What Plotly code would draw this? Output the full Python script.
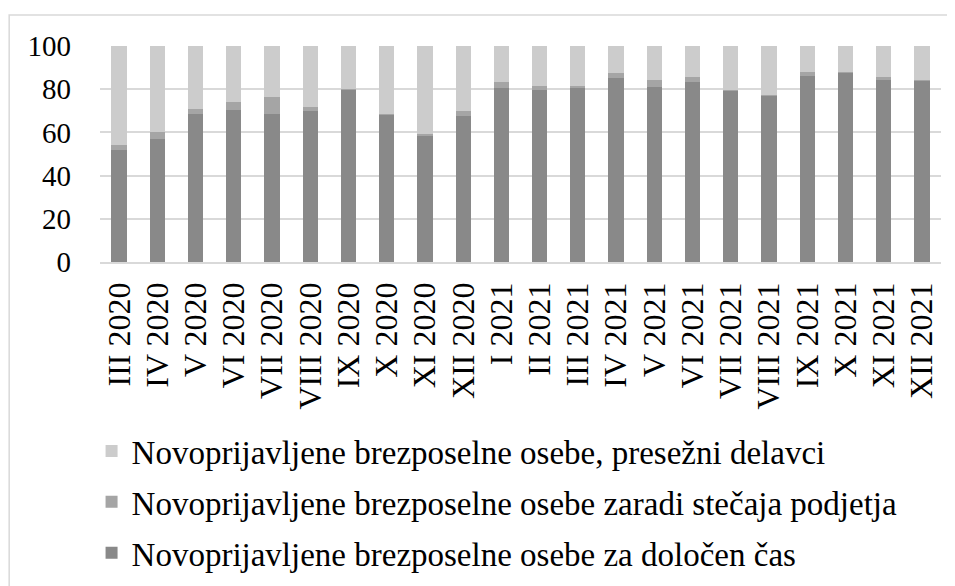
import plotly.graph_objects as go

categories = ["III 2020", "IV 2020", "V 2020", "VI 2020", "VII 2020", "VIII 2020",
              "IX 2020", "X 2020", "XI 2020", "XII 2020", "I 2021", "II 2021",
              "III 2021", "IV 2021", "V 2021", "VI 2021", "VII 2021", "VIII 2021",
              "IX 2021", "X 2021", "XI 2021", "XII 2021"]

dolocen_cas = [52.0, 56.8, 68.5, 70.4, 68.5, 69.8, 80.0, 68.1, 58.7, 67.5, 80.4,
               79.6, 80.7, 85.0, 80.9, 83.3, 79.6, 76.9, 86.3, 87.5, 84.4, 84.0]
stecaj = [2.3, 3.4, 2.3, 3.5, 7.7, 1.8, 0.3, 0.4, 0.4, 2.3, 2.8,
          1.9, 1.0, 2.4, 3.5, 2.3, 0.2, 0.6, 1.8, 0.5, 1.4, 0.4]
presezni = [45.7, 39.8, 29.2, 26.1, 23.8, 28.4, 19.7, 31.5, 40.9, 30.2, 16.8,
            18.5, 18.3, 12.6, 15.6, 14.4, 20.2, 22.5, 11.9, 12.0, 14.2, 15.6]

names = ["Novoprijavljene brezposelne osebe za določen čas",
         "Novoprijavljene brezposelne osebe zaradi stečaja podjetja",
         "Novoprijavljene brezposelne osebe, presežni delavci"]
colors = ["#898989", "#a5a5a5", "#cccccc"]
ranks = [3, 2, 1]

fig = go.Figure()
for i, (vals, name, col, rk) in enumerate(zip([dolocen_cas, stecaj, presezni], names, colors, ranks)):
    fig.add_trace(go.Bar(x=categories, y=vals, name=name, marker_color=col,
                         marker_line_width=0, legendgroup=f"g{i}", legendrank=rk))

FONT = "Liberation Serif, Times New Roman, serif"
fig.update_layout(
    barmode="stack",
    bargap=0.6,
    width=955, height=586,
    margin=dict(l=92, r=22, t=38, b=332, autoexpand=False),
    paper_bgcolor="white", plot_bgcolor="white",
    font=dict(family=FONT, color="#000000", size=29),
    showlegend=True,
    legend=dict(
        xref="container", yref="container",
        x=0.0875, y=0.2918, xanchor="left", yanchor="top",
        orientation="v", traceorder="grouped", tracegroupgap=5,
        font=dict(family=FONT, size=33, color="#000000"),
        bgcolor="rgba(0,0,0,0)",
    ),
    xaxis=dict(
        tickangle=-90, showgrid=False, showline=True, linecolor="#d9d9d9",
        linewidth=1.5, ticks="", ticklabelstandoff=6, automargin=False,
        tickfont=dict(family=FONT, size=32),
    ),
    yaxis=dict(
        range=[0, 100], tickvals=[0, 20, 40, 60, 80, 100], showgrid=True,
        gridcolor="#d9d9d9", gridwidth=1.5, zeroline=False, showline=False,
        ticks="", ticklabelstandoff=28, automargin=False,
        tickfont=dict(family=FONT, size=29),
    ),
)

fig.add_shape(type="rect", xref="paper", yref="paper",
              x0=-0.108, x1=1.05, y0=-1.7, y1=1.1435,
              line=dict(color="#d9d9d9", width=1.5), fillcolor="rgba(0,0,0,0)",
              layer="below")

fig.write_html("out.html")
